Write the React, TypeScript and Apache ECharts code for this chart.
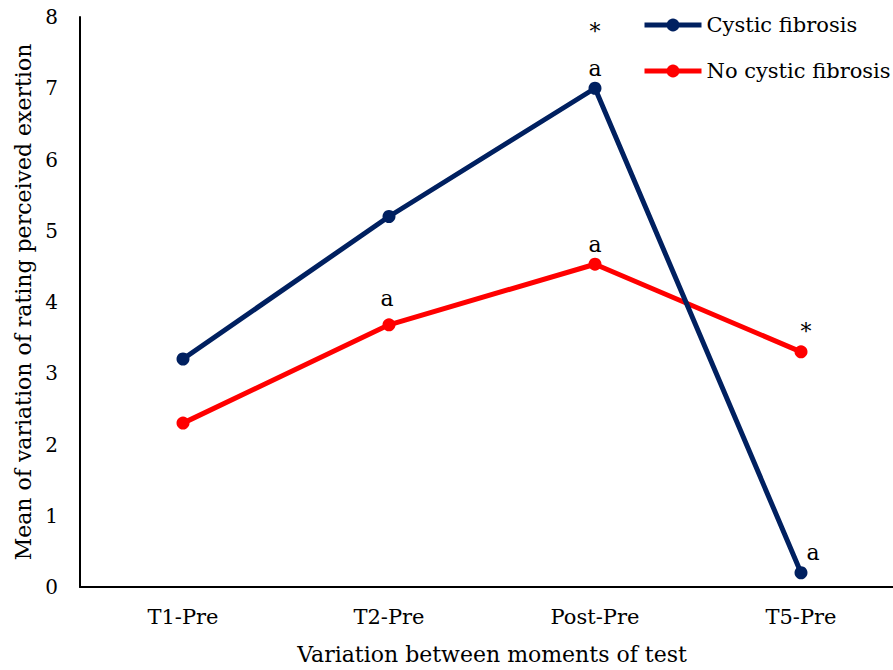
import React, { useEffect, useRef } from "react";
import * as echarts from "echarts";

const categories = ["T1-Pre", "T2-Pre", "Post-Pre", "T5-Pre"];
const cfValues = [3.2, 5.2, 7.0, 0.2];
const noCfValues = [2.3, 3.68, 4.53, 3.3];
const cfMarks = ["", "", "*\na", "a"];
const noCfMarks = ["", "a", "a", "*"];
const yTicks = [0, 1, 2, 3, 4, 5, 6, 7, 8];

const FONT = "DejaVu Serif";

const cfOffsets: [number, number][] = [[0, 0], [0, 0], [0, 0], [12, 0]];
const noCfOffsets: [number, number][] = [[0, 0], [-2, -6], [0, 0], [5, 0]];

function buildData(values: number[], marks: string[], offsets: [number, number][]) {
  return values.map((v, i) => ({
    value: v,
    label: {
      show: marks[i] !== "",
      formatter: marks[i],
      position: "top",
      distance: -5,
      offset: offsets[i],
      color: "#000",
      fontFamily: FONT,
      fontSize: 22,
      lineHeight: 37,
      align: "center",
    },
  }));
}

export default function App() {
  const ref = useRef<HTMLDivElement>(null);
  useEffect(() => {
    if (!ref.current) return;
    const chart = echarts.init(ref.current, undefined, { renderer: "svg" });
    chart.setOption({
      animation: false,
      backgroundColor: "#fff",
      textStyle: { fontFamily: FONT },
      grid: { left: 80, top: 17, bottom: 83, right: 0, containLabel: false },
      legend: {
        orient: "vertical",
        left: 642,
        top: 14,
        padding: 0,
        itemWidth: 57,
        itemHeight: 16,
        itemGap: 24,
        lineStyle: { width: 5 },
        textStyle: { fontFamily: FONT, fontSize: 21, color: "#000", lineHeight: 22 },
        data: ["Cystic fibrosis", "No cystic fibrosis"],
      },
      xAxis: {
        type: "category",
        data: categories,
        boundaryGap: true,
        name: "Variation between moments of test",
        nameLocation: "middle",
        nameGap: 56,
        nameTextStyle: { fontFamily: FONT, fontSize: 22, color: "#000" },
        axisLine: { show: true, lineStyle: { color: "#000", width: 2 } },
        axisTick: { show: false },
        axisLabel: { fontFamily: FONT, fontSize: 21, color: "#000", margin: 19 },
        splitLine: { show: false },
      },
      yAxis: {
        type: "value",
        min: 0,
        max: yTicks[yTicks.length - 1],
        interval: 1,
        name: "Mean of variation of rating perceived exertion",
        nameLocation: "middle",
        nameGap: 41,
        nameTextStyle: { fontFamily: FONT, fontSize: 22, color: "#000" },
        axisLine: { show: true, lineStyle: { color: "#000", width: 2 } },
        axisTick: { show: false },
        axisLabel: { fontFamily: FONT, fontSize: 20, color: "#000", margin: 22 },
        splitLine: { show: false },
      },
      series: [
        {
          name: "Cystic fibrosis",
          type: "line",
          data: buildData(cfValues, cfMarks, cfOffsets),
          symbol: "circle",
          symbolSize: 13,
          lineStyle: { color: "#002060", width: 5 },
          itemStyle: { color: "#002060" },
          z: 3,
        },
        {
          name: "No cystic fibrosis",
          type: "line",
          data: buildData(noCfValues, noCfMarks, noCfOffsets),
          symbol: "circle",
          symbolSize: 13,
          lineStyle: { color: "#ff0000", width: 5 },
          itemStyle: { color: "#ff0000" },
          z: 2,
        },
      ],
    });
    return () => chart.dispose();
  }, []);
  return (
    <div style={{ position: "absolute", left: 0, top: 0, width: 893, height: 670, overflow: "hidden" }}>
      <div ref={ref} style={{ width: 904, height: 670 }} />
    </div>
  );
}
